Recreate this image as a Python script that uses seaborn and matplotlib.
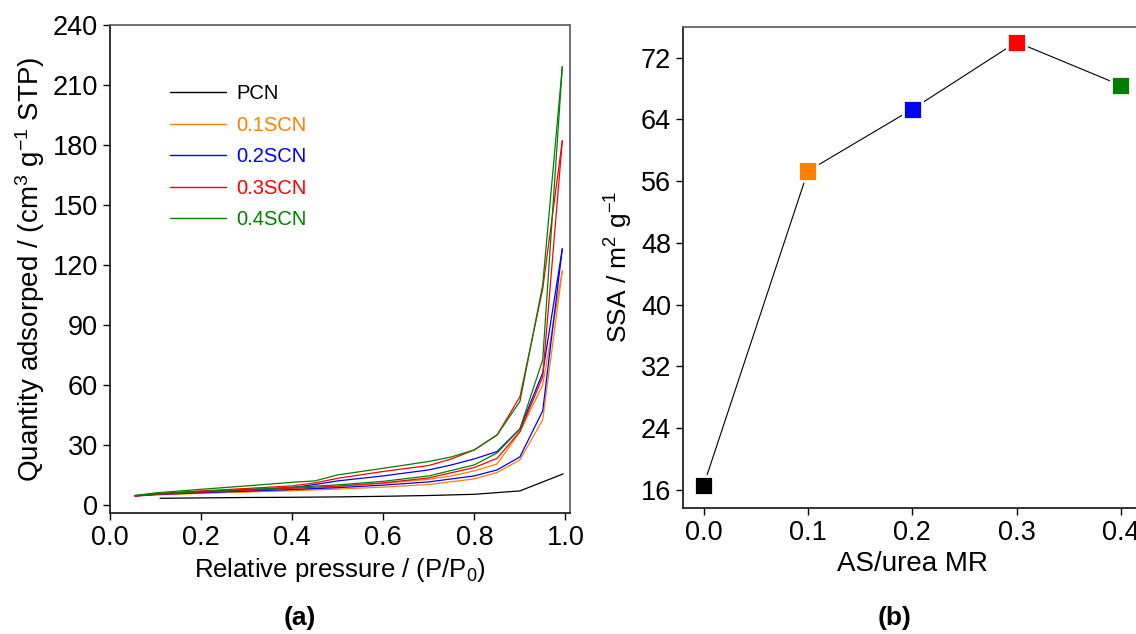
import pandas as pd
import seaborn as sns
import matplotlib.pyplot as plt
from matplotlib.lines import Line2D

# (a) N2 adsorption-desorption isotherms
p_pcn = [0.11, 0.2, 0.3, 0.4, 0.5, 0.6, 0.7, 0.8, 0.9, 0.995]
q_pcn = [3.3, 3.5, 3.7, 3.8, 4.0, 4.3, 4.7, 5.3, 7.0, 15.5]

p_ads = [0.055, 0.1, 0.2, 0.3, 0.4, 0.5, 0.6, 0.7, 0.8, 0.85, 0.9, 0.95, 0.993]
p_des = [0.993, 0.95, 0.9, 0.85, 0.8, 0.75, 0.7, 0.6, 0.5, 0.45, 0.4, 0.3, 0.2, 0.1, 0.055]

ads_01 = [4.4, 5.0, 5.8, 6.5, 7.1, 7.9, 8.9, 10.2, 13.0, 16.2, 22.5, 42.5, 117]
des_01 = [117, 60, 36.5, 20.5, 17.0, 14.5, 12.8, 10.8, 9.2, 8.3, 7.3, 6.6, 5.9, 5.1, 4.4]
ads_02 = [4.5, 5.2, 6.1, 6.9, 7.7, 8.6, 9.9, 11.5, 14.5, 17.5, 24.0, 47.0, 128]
des_02 = [128, 66, 38, 26.7, 23, 20, 17.5, 14.5, 12.0, 10.2, 8.6, 7.5, 6.5, 5.4, 4.5]
ads_03 = [4.5, 5.3, 6.4, 7.3, 8.3, 9.4, 11.0, 13.5, 18.7, 23.3, 36.7, 64, 182]
des_03 = [182, 108, 54, 35, 27.5, 23, 19.7, 16.7, 13.3, 11.0, 9.5, 8.2, 7.0, 5.6, 4.5]
ads_04 = [4.7, 5.5, 6.7, 7.7, 8.8, 10.0, 11.8, 14.5, 20.0, 26.0, 38.0, 72.5, 219]
des_04 = [219, 110, 51.7, 35, 27.5, 24, 21.7, 18.3, 15.0, 12.0, 11.3, 9.5, 7.8, 6.0, 4.7]

# (b) specific surface area vs AS/urea molar ratio
mr = [0.0, 0.1, 0.2, 0.3, 0.4]
ssa = [16.6, 57.3, 65.3, 74.0, 68.4]

names = ['PCN', '0.1SCN', '0.2SCN', '0.3SCN', '0.4SCN']
colors = ['#000000', '#FF8000', '#0000FF', '#FF0000', '#008000']

# long table for the isotherms
rows = []
for p, q in zip(p_pcn, q_pcn):
    rows.append(('PCN', 'ads', p, q))
for name, a, d in zip(names[1:], [ads_01, ads_02, ads_03, ads_04], [des_01, des_02, des_03, des_04]):
    for p, q in zip(p_ads, a):
        rows.append((name, 'ads', p, q))
    for p, q in zip(p_des, d):
        rows.append((name, 'des', p, q))
iso = pd.DataFrame(rows, columns=['sample', 'branch', 'P', 'Q'])

sns.set_style('ticks')
plt.rcParams['font.family'] = ['Liberation Sans', 'DejaVu Sans']
plt.rcParams['mathtext.fontset'] = 'custom'
plt.rcParams['mathtext.rm'] = 'Liberation Sans'
plt.rcParams['mathtext.it'] = 'Liberation Sans:italic'
plt.rcParams['mathtext.default'] = 'regular'
plt.rcParams['text.color'] = 'black'
plt.rcParams['axes.labelcolor'] = 'black'

fig = plt.figure(figsize=(11.36, 6.34), dpi=100)
ax1 = fig.add_axes([0.0968, 0.191, 0.405, 0.770])
ax2 = fig.add_axes([0.601, 0.199, 0.404, 0.759])

sns.lineplot(data=iso, x='P', y='Q', hue='sample', units='branch', estimator=None,
             sort=False, palette=dict(zip(names, colors)), hue_order=names,
             lw=0.9, legend=False, ax=ax1)
ax1.set_xlim(0, 1.01)
ax1.set_ylim(-4, 240)
ax1.set_xticks([0, 0.2, 0.4, 0.6, 0.8, 1.0])
ax1.set_yticks(range(0, 241, 30))
ax1.set_xlabel('Relative pressure / (P/P$_0$)', fontsize=18.5)
ax1.set_ylabel('Quantity adsorped / (cm$^3$ g$^{-1}$ STP)', fontsize=20)

handles = [Line2D([], [], color=c, lw=1) for c in colors]
leg = ax1.legend(handles, names, loc='upper left', bbox_to_anchor=(0.091, 0.915),
                 frameon=False, fontsize=14.5, handlelength=2.8,
                 handletextpad=0.5, labelspacing=0.62)
for t, c in zip(leg.get_texts(), colors):
    t.set_color(c)

sns.lineplot(x=mr, y=ssa, color='black', lw=0.8, ax=ax2)
sns.scatterplot(x=mr, y=ssa, hue=names, palette=colors, marker='s', s=190,
                edgecolor='white', linewidth=2, legend=False, ax=ax2, zorder=3)
ax2.set_xlim(-0.02, 0.42)
ax2.set_ylim(13.7, 76)
ax2.set_xticks([0.0, 0.1, 0.2, 0.3, 0.4])
ax2.set_yticks(range(16, 73, 8))
ax2.set_xlabel('AS/urea MR', fontsize=20)
ax2.set_ylabel('SSA / m$^2$ g$^{-1}$', fontsize=19)

for ax in (ax1, ax2):
    for side in ('left', 'bottom'):
        ax.spines[side].set_color('#222222')
        ax.spines[side].set_linewidth(1.3)
    for side in ('top', 'right'):
        ax.spines[side].set_color('#666666')
        ax.spines[side].set_linewidth(1.3)
    ax.tick_params(direction='out', length=5, width=1, labelsize=19.5,
                   colors='black', labelcolor='black')
    ax.xaxis.set_major_formatter(plt.FormatStrFormatter('%.1f'))

fig.text(300 / 1136, 1 - 618 / 634, '(a)', ha='center', va='center', fontsize=19, weight='bold')
fig.text(895 / 1136, 1 - 618 / 634, '(b)', ha='center', va='center', fontsize=19, weight='bold')

fig.savefig('out.png', dpi=100)
